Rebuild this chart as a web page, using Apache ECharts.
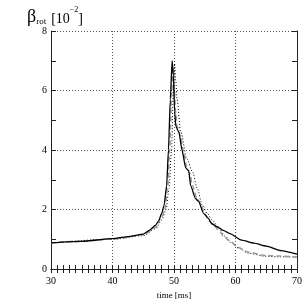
<!DOCTYPE html>
<html><head><meta charset="utf-8">
<script src="https://cdn.jsdelivr.net/npm/echarts@6/dist/echarts.min.js"></script>
<style>html,body{margin:0;padding:0;background:#fff}#c{width:305px;height:305px}</style>
</head><body><div id="c"></div>
<script>
// measured (solid black)
const tSolid = [30, 35, 40, 43, 45, 46, 47, 47.5, 48, 48.4, 48.8, 49.1, 49.4, 49.7, 49.9, 50.1, 50.3, 50.8, 51.3, 51.9, 52.4, 52.7, 53.5, 54.0, 54.8, 55.6, 56.1, 57, 58, 59, 61, 63, 65, 67.4, 70];
const ySolid = [0.88, 0.93, 1.02, 1.1, 1.17, 1.3, 1.47, 1.62, 1.87, 2.15, 2.8, 4.0, 5.7, 7.0, 6.5, 5.3, 4.8, 4.6, 4.0, 3.4, 3.3, 2.8, 2.37, 2.27, 1.87, 1.7, 1.53, 1.42, 1.3, 1.2, 0.97, 0.87, 0.77, 0.62, 0.5];
// gray dashed
const tGray = [30, 35, 40, 45, 47, 48, 48.5, 49, 49.3, 49.6, 49.8, 50.0, 50.3, 50.5, 51.0, 51.5, 52.1, 52.6, 53.0, 53.7, 54.3, 55.0, 55.8, 56.5, 57.3, 58, 59, 60.5, 62, 65, 70];
const yGray = [0.88, 0.93, 1.01, 1.15, 1.4, 1.75, 2.0, 2.8, 4.0, 5.8, 6.8, 6.2, 5.2, 4.8, 4.5, 4.0, 3.4, 3.2, 2.8, 2.4, 2.2, 1.85, 1.6, 1.45, 1.3, 1.12, 0.95, 0.72, 0.57, 0.45, 0.4];
// dotted black
const tDot = [30, 40, 45, 47, 48, 48.7, 49.2, 49.6, 49.9, 50.1, 50.3, 50.5, 51.1, 52.1, 53, 53.8, 54.6, 55.4, 56.2, 57.3, 58.3, 59.4, 60.5, 62.1, 64.8, 67, 70];
const yDot = [0.88, 1.0, 1.12, 1.35, 1.65, 2.0, 2.7, 4.0, 6.0, 6.9, 6.3, 5.7, 4.6, 3.7, 3.27, 2.7, 2.14, 1.87, 1.65, 1.37, 1.1, 0.87, 0.7, 0.53, 0.43, 0.41, 0.4];
const xTicks = [30, 40, 50, 60, 70];
const yTicks = [0, 2, 4, 6, 8];

const zip = (a, b) => a.map((v, i) => [v, b[i]]);
const font = '"Liberation Serif", "DejaVu Serif", serif';
const frame = { show: true, lineStyle: { color: '#222', width: 1 } };
const grid = { left: 51, right: 6, top: 31, bottom: 34 };
const txt = (size, lh, va) => ({ fontFamily: font, fontSize: size, fontWeight: 'normal', color: '#000', verticalAlign: va, lineHeight: lh });

const chart = echarts.init(document.getElementById('c'), null, { renderer: 'canvas' });
chart.setOption({
  animation: false,
  backgroundColor: '#fff',
  title: {
    left: 22, top: 1,
    text: '{b|β}{s|rot} {n|[10}{p|−2}{n|]}',
    textStyle: {
      fontWeight: 'normal',
      rich: {
        b: txt(18, 20, 'bottom'),
        s: txt(9, 14, 'bottom'),
        n: txt(14, 18, 'bottom'),
        p: txt(8, 12, 'top')
      }
    }
  },
  grid: grid,
  xAxis: [{
    type: 'value', min: 30, max: 70, interval: 10,
    name: 'time [ms]', nameLocation: 'middle', nameGap: 22,
    nameTextStyle: { fontFamily: font, fontSize: 9, color: '#000' },
    axisLine: frame,
    axisTick: { show: true, inside: true, length: 4, lineStyle: { color: '#222' } },
    minorTick: { show: true, splitNumber: 10, length: 4, lineStyle: { color: '#222' } },
    axisLabel: { fontFamily: font, fontSize: 10, color: '#000', margin: 7,
      formatter: v => xTicks.includes(v) ? String(v) : '' },
    splitLine: { show: true, lineStyle: { color: '#555', type: [1, 2], width: 1 } }
  }, {
    type: 'value', min: 30, max: 70, interval: 10, position: 'top',
    axisLine: frame,
    axisTick: { show: true, inside: true, length: 4, lineStyle: { color: '#222' } },
    minorTick: { show: true, splitNumber: 10, length: 4, lineStyle: { color: '#222' } },
    axisLabel: { show: false }, splitLine: { show: false }
  }],
  yAxis: [{
    type: 'value', min: 0, max: 8, interval: 2,
    axisLine: frame,
    axisTick: { show: true, inside: true, length: 5, lineStyle: { color: '#222' } },
    minorTick: { show: true, splitNumber: 2, length: 5, lineStyle: { color: '#222' } },
    axisLabel: { fontFamily: font, fontSize: 10, color: '#000', margin: 4,
      formatter: v => yTicks.includes(v) ? String(v) : '' },
    splitLine: { show: true, lineStyle: { color: '#555', type: [1, 2], width: 1 } }
  }, {
    type: 'value', min: 0, max: 8, interval: 2, position: 'right',
    axisLine: frame,
    axisTick: { show: true, inside: true, length: 5, lineStyle: { color: '#222' } },
    minorTick: { show: true, splitNumber: 2, length: 5, lineStyle: { color: '#222' } },
    axisLabel: { show: false }, splitLine: { show: false }
  }],
  series: [{
    type: 'line', data: zip(tDot, yDot), showSymbol: false, smooth: 0.3, smoothMonotone: 'x',
    lineStyle: { color: '#000', width: 1, type: [1, 2] }, z: 3
  }, {
    type: 'line', data: zip(tGray, yGray), showSymbol: false, smooth: 0.3, smoothMonotone: 'x',
    lineStyle: { color: '#999', width: 1.5, type: [5, 3] }, z: 4
  }, {
    type: 'line', data: zip(tSolid, ySolid), showSymbol: false, smooth: 0.2, smoothMonotone: 'x',
    lineStyle: { color: '#000', width: 1.3 }, z: 5
  }]
});
</script></body></html>
